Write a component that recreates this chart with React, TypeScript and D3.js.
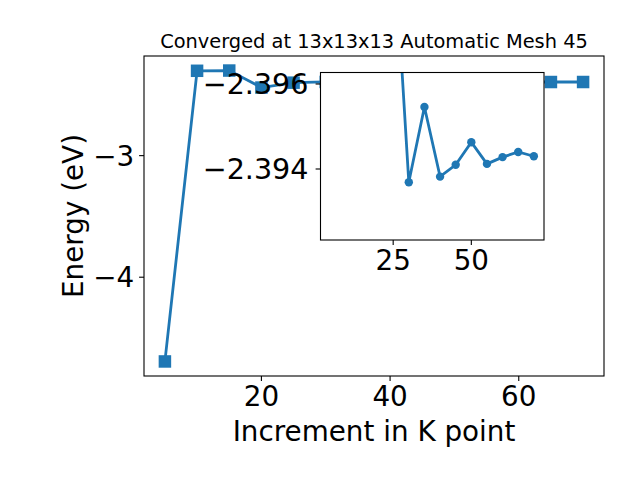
import React from "react";
import * as d3 from "d3";

const kpoints = [5, 10, 15, 20, 25, 30, 35, 40, 45, 50, 55, 60, 65, 70];
const energy = [
  -4.693, -2.302, -2.3, -2.44, -2.3997, -2.39369, -2.39546, -2.39382, -2.3941,
  -2.39463, -2.39412, -2.39428, -2.3944, -2.3943,
];
// the inset shows the converged tail, starting at k = 25
const insetStart = 4;
const mainXTicks = [20, 40, 60];
const mainYTicks = [-3, -4];
const insetXTicks = [25, 50];
const insetYTicks = [-2.396, -2.394];
const title = "Converged at 13x13x13 Automatic Mesh 45";
const xLabel = "Increment in K point";
const yLabel = "Energy (eV)";

const W = 640;
const H = 480;
const COLOR = "#1f77b4";
const FONT = "DejaVu Sans";

const fmt = (v: number) => (v < 0 ? "\u2212" + String(Math.abs(v)) : String(v));

export default function App() {
  const M = { left: 144, right: 604, top: 56, bottom: 376 };
  const I = { left: 320.5, right: 544, top: 72.5, bottom: 240 };

  const xExt = d3.extent(kpoints) as [number, number];
  const xPad = (xExt[1] - xExt[0]) * 0.05;
  const yExt = d3.extent(energy) as [number, number];
  const yPad = (yExt[1] - yExt[0]) * 0.05;

  const x = d3.scaleLinear().domain([xExt[0] - xPad, xExt[1] + xPad]).range([M.left, M.right]);
  const y = d3.scaleLinear().domain([yExt[0] - yPad, yExt[1] + yPad]).range([M.bottom, M.top]);

  const xi = d3.scaleLinear().domain([xExt[0] - xPad, xExt[1] + xPad]).range([I.left, I.right]);
  const yi = d3.scaleLinear().domain(insetYTicks).range([84, 169]);

  const pts = kpoints.map((k, i) => [k, energy[i]] as [number, number]);
  const insetPts = pts.slice(insetStart);
  const mainLine = d3.line<[number, number]>().x((d) => x(d[0])).y((d) => y(d[1]))(pts) || "";
  const insetLine = d3.line<[number, number]>().x((d) => xi(d[0])).y((d) => yi(d[1]))(insetPts) || "";

  const ms = 12.5;
  const tickLen = 4.9;
  const tickFont = 27.8;

  return (
    <svg width={W} height={H} style={{ display: "block", position: "absolute", left: 0, top: 0 }} fontFamily={FONT}>
      <rect x={0} y={0} width={W} height={H} fill="white" />
      <defs>
        <clipPath id="insetClip">
          <rect x={I.left} y={I.top} width={I.right - I.left} height={I.bottom - I.top} />
        </clipPath>
      </defs>

      {/* main axes */}
      <path d={mainLine} fill="none" stroke={COLOR} strokeWidth={2.8} />
      {pts.map((d, i) => (
        <rect key={i} x={x(d[0]) - ms / 2} y={y(d[1]) - ms / 2} width={ms} height={ms} fill={COLOR} />
      ))}
      <rect x={M.left} y={M.top} width={M.right - M.left} height={M.bottom - M.top} fill="none" stroke="black" strokeWidth={1.1} />
      {mainXTicks.map((t) => (
        <g key={t}>
          <line x1={x(t)} x2={x(t)} y1={M.bottom} y2={M.bottom + tickLen} stroke="black" strokeWidth={1.1} />
          <text x={x(t)} y={M.bottom + 9.8 + 20.3} textAnchor="middle" fontSize={tickFont}>{fmt(t)}</text>
        </g>
      ))}
      {mainYTicks.map((t) => (
        <g key={t}>
          <line x1={M.left - tickLen} x2={M.left} y1={y(t)} y2={y(t)} stroke="black" strokeWidth={1.1} />
          <text x={M.left - 9.8} y={y(t)} dy="0.36em" textAnchor="end" fontSize={tickFont}>{fmt(t)}</text>
        </g>
      ))}
      <text x={(M.left + M.right) / 2} y={441} textAnchor="middle" fontSize={27.8}>{xLabel}</text>
      <text transform={`translate(83, ${(M.top + M.bottom) / 2}) rotate(-90)`} textAnchor="middle" fontSize={27.8}>{yLabel}</text>
      <text x={(M.left + M.right) / 2} y={48} textAnchor="middle" fontSize={19.4}>{title}</text>

      {/* inset axes */}
      <rect x={I.left} y={I.top} width={I.right - I.left} height={I.bottom - I.top} fill="white" />
      <g clipPath="url(#insetClip)">
        <path d={insetLine} fill="none" stroke={COLOR} strokeWidth={2.8} />
        {insetPts.map((d, i) => (
          <circle key={i} cx={xi(d[0])} cy={yi(d[1])} r={4.2} fill={COLOR} />
        ))}
      </g>
      <rect x={I.left} y={I.top} width={I.right - I.left} height={I.bottom - I.top} fill="none" stroke="black" strokeWidth={1.1} />
      {insetXTicks.map((t) => (
        <g key={t}>
          <line x1={xi(t)} x2={xi(t)} y1={I.bottom} y2={I.bottom + tickLen} stroke="black" strokeWidth={1.1} />
          <text x={xi(t)} y={I.bottom + 9.8 + 20.3} textAnchor="middle" fontSize={tickFont}>{fmt(t)}</text>
        </g>
      ))}
      {insetYTicks.map((t) => (
        <g key={t}>
          <line x1={I.left - tickLen} x2={I.left} y1={yi(t)} y2={yi(t)} stroke="black" strokeWidth={1.1} />
          <text x={I.left - 12} y={yi(t)} dy="0.36em" textAnchor="end" fontSize={28.6}>{fmt(t)}</text>
        </g>
      ))}
    </svg>
  );
}
